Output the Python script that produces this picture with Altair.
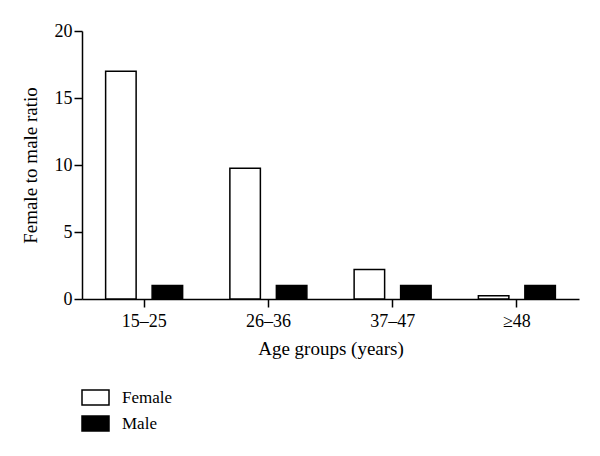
import altair as alt
import pandas as pd

groups = ["15–25", "26–36", "37–47", "≥48"]
female = [17.0, 9.75, 2.2, 0.25]
male = [1.0, 1.0, 1.0, 1.0]

rows = []
for g, f, m in zip(groups, female, male):
    rows.append({"group": g, "sex": "Female", "ratio": f})
    rows.append({"group": g, "sex": "Male", "ratio": m})
df = pd.DataFrame(rows)

FONT = "Liberation Serif"

chart = alt.Chart(df).mark_bar(stroke="black", strokeWidth=1.5).encode(
    x=alt.X("group:N", sort=groups,
            scale=alt.Scale(paddingInner=0, paddingOuter=0),
            axis=alt.Axis(title="Age groups (years)", labelAngle=0, tickSize=8,
                          labelPadding=5, titlePadding=9)),
    xOffset=alt.XOffset("sex:N", sort=["Female", "Male"],
                        scale=alt.Scale(paddingInner=0.344, paddingOuter=0.508)),
    y=alt.Y("ratio:Q", scale=alt.Scale(domain=[0, 20], nice=False),
            axis=alt.Axis(title="Female to male ratio", values=[0, 5, 10, 15, 20],
                          tickSize=8, labelPadding=2, titlePadding=14, grid=False)),
    fill=alt.Fill("sex:N", sort=["Female", "Male"],
                  scale=alt.Scale(domain=["Female", "Male"], range=["white", "black"]),
                  legend=alt.Legend(title=None, orient="none", legendX=-1, legendY=352,
                                    symbolType="M-1,-0.556H1V0.556H-1Z", symbolSize=729,
                                    symbolStrokeColor="black", symbolStrokeWidth=1.5,
                                    labelFontSize=17, labelFont=FONT, labelOffset=12,
                                    rowPadding=-2, labelColor="black")),
).properties(
    width=497, height=268,
    padding={"left": 74, "top": 23, "right": 13, "bottom": 149},
    autosize=alt.AutoSizeParams(type="none"),
).configure_view(
    stroke=None
).configure_axis(
    domainColor="black", tickColor="black", domainWidth=1.5, tickWidth=1.5,
    labelFont=FONT, titleFont=FONT, labelFontSize=18, titleFontSize=19,
    labelColor="black", titleColor="black", titleFontWeight="normal",
).configure_axisY(
    titleAngle=270
)

chart.save("out.html", embed_options={"renderer": "svg", "actions": False})
